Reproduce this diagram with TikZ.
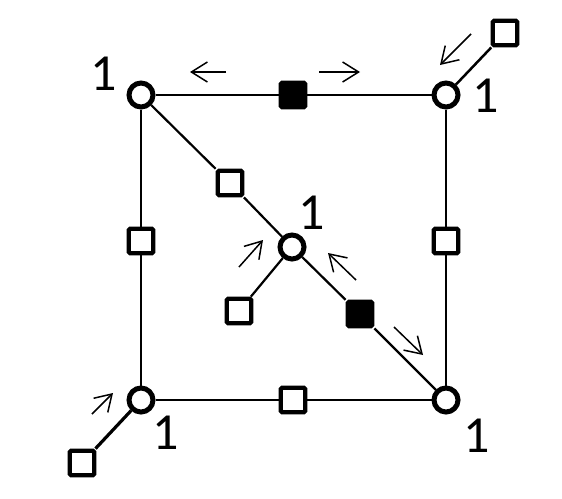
\documentclass[tikz,border=0pt]{standalone}
\usepackage{fontspec}
\setmainfont{Carlito}
\usetikzlibrary{arrows.meta}
\begin{document}
\begin{tikzpicture}[x=1pt,y=-1pt,
  vert/.style={circle,draw,line width=5pt,fill=white,minimum size=24pt,inner sep=0pt},
  osq/.style={rectangle,draw,line width=4.3pt,fill=white,minimum size=24.5pt,inner sep=0pt,rounded corners=1.5pt},
  bsq/.style={osq,fill=black},
  edge/.style={line width=2.2pt},
  flow/.style={line width=1.5pt,-{Straight Barb[length=16pt,width=20pt,line width=1.5pt]}},
  lab/.style={font=\fontsize{52}{52}\selectfont,inner sep=0pt}]
\useasboundingbox (0,0) rectangle (562,498);
% main vertices
\node[vert] (tl) at (141,95) {};
\node[vert] (tr) at (446,95) {};
\node[vert] (bl) at (141,400) {};
\node[vert] (br) at (446,400) {};
\node[vert] (c) at (292,247) {};
% squares on edges
\node[bsq] (st) at (293,95) {};
\node[osq] (sl) at (141,241) {};
\node[osq] (sr) at (446,241) {};
\node[osq] (sb) at (293,400) {};
\node[osq] (sd1) at (230,183) {};
\node[bsq] (sd2) at (360,314) {};
% pendant squares
\node[osq] (pbl) at (82,463) {};
\node[osq] (ptr) at (505,33) {};
\node[osq] (pc) at (239,311) {};
% edges
\draw[edge] (tl) -- (st) -- (tr);
\draw[edge] (tl) -- (sl) -- (bl);
\draw[edge] (tr) -- (sr) -- (br);
\draw[edge] (bl) -- (sb) -- (br);
\draw[edge] (tl) -- (sd1) -- (c) -- (sd2) -- (br);
\draw[line width=3.2pt] (bl) -- (pbl);
\draw[line width=2.5pt] (tr) -- (ptr);
\draw[edge] (c) -- (pc);
% labels
\node[lab] (l1) at (104,74) {1};
\node[lab] (l2) at (486,96) {1};
\node[lab] (l3) at (312,213) {1};
\node[lab] (l4) at (166,433) {1};
\node[lab] (l5) at (477,436) {1};
% flow arrows
\coordinate (a1s) at (226,72); \coordinate (a1e) at (190,72);
\coordinate (a2s) at (319,72); \coordinate (a2e) at (360,72);
\coordinate (a3s) at (239,267); \coordinate (a3e) at (263,240);
\coordinate (a4s) at (356,280); \coordinate (a4e) at (328,253);
\coordinate (a5s) at (394,327); \coordinate (a5e) at (423,355);
\coordinate (a6s) at (92,414); \coordinate (a6e) at (113,393);
\coordinate (a7s) at (471,34); \coordinate (a7e) at (440,65);
\draw[flow] (a1s) -- (a1e);
\draw[flow] (a2s) -- (a2e);
\draw[flow] (a3s) -- (a3e);
\draw[flow] (a4s) -- (a4e);
\draw[flow] (a5s) -- (a5e);
\draw[flow] (a6s) -- (a6e);
\draw[flow] (a7s) -- (a7e);
\end{tikzpicture}
\end{document}
